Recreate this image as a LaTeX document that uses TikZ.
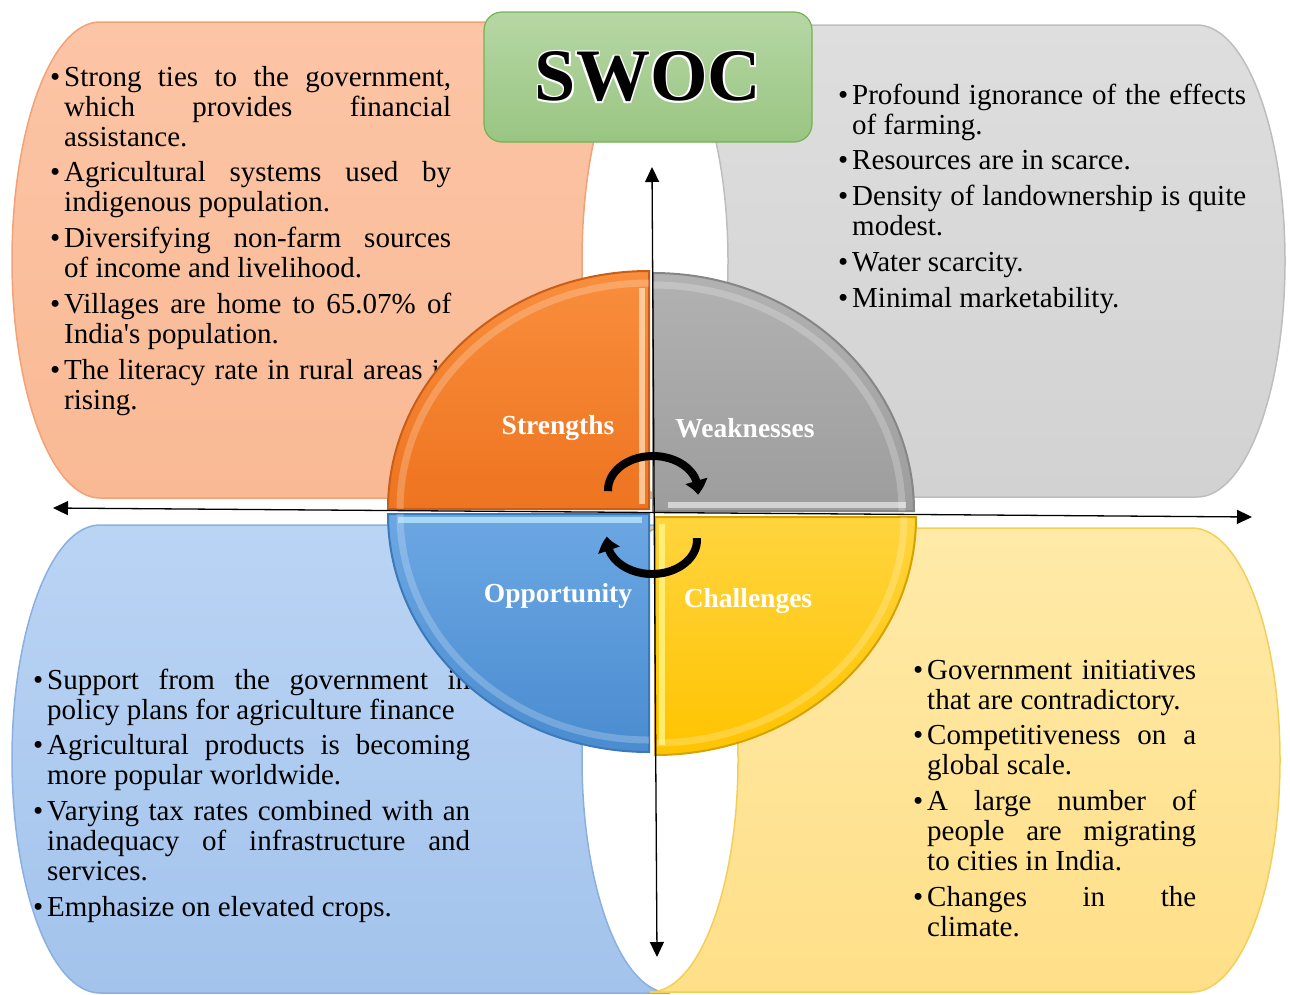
\documentclass[tikz,border=0pt]{standalone}
\usepackage{fontspec}
\setmainfont{Liberation Serif}
\newfontfamily\plainserif{Liberation Serif}
\usetikzlibrary{arrows.meta,calc,bending}
\definecolor{orTop}{HTML}{FCC5A6}\definecolor{orBot}{HTML}{F9B994}\definecolor{orEdge}{HTML}{F2A276}
\definecolor{grTop}{HTML}{DEDEDE}\definecolor{grBot}{HTML}{D2D2D2}\definecolor{grEdge}{HTML}{BDBDBD}
\definecolor{blTop}{HTML}{BAD4F4}\definecolor{blBot}{HTML}{A3C3EC}\definecolor{blEdge}{HTML}{8AB0E0}
\definecolor{ylTop}{HTML}{FFEAA8}\definecolor{ylBot}{HTML}{FFDF88}\definecolor{ylEdge}{HTML}{F3CF58}
\definecolor{qorTop}{HTML}{F98E3D}\definecolor{qorBot}{HTML}{EE7420}\definecolor{qorRim}{HTML}{C95E18}
\definecolor{qgrTop}{HTML}{B2B2B2}\definecolor{qgrBot}{HTML}{9D9D9D}\definecolor{qgrRim}{HTML}{868686}
\definecolor{qblTop}{HTML}{6CA7E3}\definecolor{qblBot}{HTML}{4A8CD0}\definecolor{qblRim}{HTML}{3C79BA}
\definecolor{qylTop}{HTML}{FFD43E}\definecolor{qylBot}{HTML}{FFC400}\definecolor{qylRim}{HTML}{D6A200}
\definecolor{swTop}{HTML}{B6D7A4}\definecolor{swBot}{HTML}{99C582}\definecolor{swEdge}{HTML}{76B154}
\newlength\LW
\newcommand\bl{\makebox[14pt][l]{•}}
\newcommand\ind{\hspace*{14pt}}
\newcommand\J[1]{\makebox[\LW][s]{#1}}
\newcommand\Nl[1]{\makebox[\LW][l]{#1}}
\newcommand\apos{{\plainserif'}}
\newcommand\qsector[5]{%
  \path[#1] (#2) -- ++(#3:261 and 238) arc[start angle=#3,end angle=#4,x radius=261,y radius=238] -- cycle;
  \draw[white,opacity=.22,line width=7pt] (#2) ++(#3:#5) arc[start angle=#3,end angle=#4,x radius=249,y radius=226];}
\begin{document}
\begin{tikzpicture}[x=1pt,y=-1pt,
  bigbox/.style={line width=1.5pt},
  boxtext/.style={anchor=north west,inner sep=0pt,align=left},
  qlabel/.style={text=white,font=\fontsize{27.5}{30}\selectfont\bfseries,inner sep=0pt},
  axis/.style={line width=1.3pt,{Triangle[length=15pt,width=14pt]}-{Triangle[length=15pt,width=14pt]}},
  cyc/.style={line width=8pt,-{Triangle[length=14pt,width=22pt,bend]}},
  swoctext/.style={font=\fontsize{74}{80}\selectfont\bfseries,inner sep=0pt}]
\useasboundingbox (0,0) rectangle (1290,994);
% background boxes
\path[bigbox,draw=orEdge,top color=orTop,bottom color=orBot]
  (100,22) arc[start angle=270,end angle=90,x radius=88,y radius=238] -- (670,498)
  arc[start angle=90,end angle=270,x radius=88,y radius=238] -- cycle;
\path[bigbox,draw=grEdge,top color=grTop,bottom color=grBot]
  (640,25) -- (1197,25) arc[start angle=270,end angle=450,x radius=88,y radius=236] -- (640,497)
  arc[start angle=90,end angle=-90,x radius=88,y radius=236] -- cycle;
\path[bigbox,draw=blEdge,top color=blTop,bottom color=blBot]
  (100,525) arc[start angle=270,end angle=90,x radius=88,y radius=234] -- (670,993)
  arc[start angle=90,end angle=270,x radius=88,y radius=234] -- cycle;
\path[bigbox,draw=ylEdge,top color=ylTop,bottom color=ylBot]
  (650,528) -- (1192,528) arc[start angle=270,end angle=450,x radius=88,y radius=232] -- (650,992)
  arc[start angle=90,end angle=-90,x radius=88,y radius=232] -- cycle;
% texts
\node[boxtext,font={\fontsize{29}{30}\selectfont\setlength\LW{387pt}}] (stext) at (50,65) {%
\strut\bl\J{Strong ties to the government,}\\
\ind\J{which provides financial}\\
\ind\Nl{assistance.}\\[5.75pt]
\bl\J{Agricultural systems used by}\\
\ind\Nl{indigenous population.}\\[5.75pt]
\bl\J{Diversifying non-farm sources}\\
\ind\Nl{of income and livelihood.}\\[5.75pt]
\bl\J{Villages are home to 65.07\% of}\\
\ind\Nl{India\apos s population.}\\[5.75pt]
\bl\J{The literacy rate in rural areas is}\\
\ind\Nl{rising.}};
\node[boxtext,font={\fontsize{29}{30}\selectfont\setlength\LW{394pt}}] (wtext) at (838,83) {%
\strut\bl\J{Profound ignorance of the effects}\\
\ind\Nl{of farming.}\\[5.75pt]
\bl\Nl{Resources are in scarce.}\\[5.75pt]
\bl\J{Density of landownership is quite}\\
\ind\Nl{modest.}\\[5.75pt]
\bl\Nl{Water scarcity.}\\[5.75pt]
\bl\Nl{Minimal marketability.}};
\node[boxtext,font={\fontsize{29}{30}\selectfont\setlength\LW{423pt}}] (otext) at (33,668) {%
\strut\bl\J{Support from the government in}\\
\ind\Nl{policy plans for agriculture finance}\\[5.75pt]
\bl\J{Agricultural products is becoming}\\
\ind\Nl{more popular worldwide.}\\[5.75pt]
\bl\J{Varying tax rates combined with an}\\
\ind\J{inadequacy of infrastructure and}\\
\ind\Nl{services.}\\[5.75pt]
\bl\Nl{Emphasize on elevated crops.}};
\node[boxtext,font={\fontsize{29}{30}\selectfont\setlength\LW{269pt}}] (ctext) at (913,658) {%
\strut\bl\J{Government initiatives}\\
\ind\Nl{that are contradictory.}\\[5.75pt]
\bl\J{Competitiveness on a}\\
\ind\Nl{global scale.}\\[5.75pt]
\bl\J{A large number of}\\
\ind\J{people are migrating}\\
\ind\Nl{to cities in India.}\\[5.75pt]
\bl\J{Changes in the}\\
\ind\Nl{climate.}};
% central circle
\qsector{draw=qorRim,line width=2pt,top color=qorTop,bottom color=qorBot}{649,509}{180}{270}{249 and 226}
\qsector{draw=qgrRim,line width=2pt,top color=qgrTop,bottom color=qgrBot}{653,511}{270}{360}{249 and 226}
\qsector{draw=qblRim,line width=2pt,top color=qblTop,bottom color=qblBot}{649,514}{90}{180}{249 and 226}
\qsector{draw=qylRim,line width=2pt,top color=qylTop,bottom color=qylBot}{655,517}{0}{90}{249 and 226}
\draw[line width=6pt,color=orange!25!white,opacity=.75] (642,288) -- (642,504);
\draw[line width=6pt,white,opacity=.55] (668,505) -- (906,505);
\draw[line width=6pt,cyan!25!white,opacity=.75] (398,520) -- (642,520);
\draw[line width=6pt,yellow!45!white,opacity=.75] (662,524) -- (662,745);
\node[qlabel] (lstr) at (558,428) {Strengths};
\node[qlabel] (lwea) at (745,428) {Weaknesses};
\node[qlabel] (lopp) at (558,596) {Opportunity};
\node[qlabel] (lcha) at (748,601) {Challenges};
% axes
\coordinate (hl) at (53,508);
\coordinate (hr) at (1252,517);
\coordinate (vt) at (652,167);
\coordinate (vb) at (657,957);
\draw[axis] (hl) -- (hr);
\draw[axis] (vt) -- (vb);
% cycle arrows
\draw[cyc] (653,490) ++(178:45 and 34) arc[start angle=178,end angle=368,x radius=45,y radius=34];
\draw[cyc] (652,540) ++(-3:45 and 34) arc[start angle=-3,end angle=186,x radius=45,y radius=34];
% SWOC box
\node[draw=swEdge,line width=1.2pt,rounded corners=18pt,top color=swTop,bottom color=swBot,
  minimum width=328pt,minimum height=130pt,inner sep=0pt] (swocbox) at (648,77) {};
\foreach \a in {45,135,225,315}
  \node[swoctext,text=white,name=sw\a] at ($(swocbox.center)+(\a:2.2)$) {SWOC};
\node[swoctext,text=black] (swoc) at (swocbox.center) {SWOC};
\end{tikzpicture}
\end{document}
